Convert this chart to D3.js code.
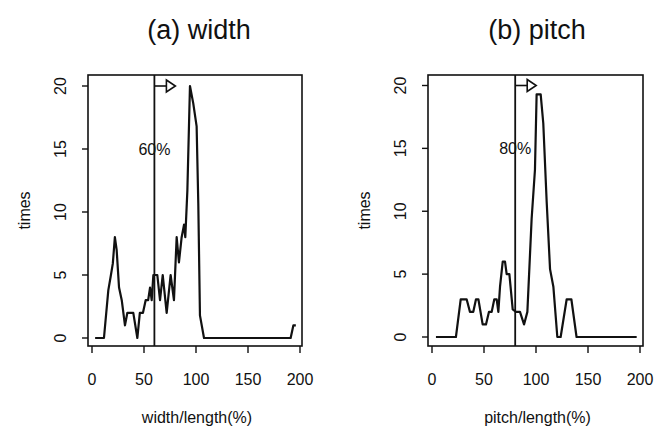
<!DOCTYPE html>
<html>
<head>
<meta charset="utf-8">
<title>width / pitch</title>
<script src="https://d3js.org/d3.v7.min.js"></script>
<style>
    body { margin: 0; background: #fff; }
    text { font-family: "Liberation Sans", Arial, sans-serif; fill: #111; }
</style>
</head>
<body>
<script>
    // (a) width: x = width/length (%), y = times
    const widthX = [3, 11.5, 15.7, 18, 20, 22, 23.7, 26, 28.6, 31.7, 34, 39.7, 43.6, 46, 49, 51.6, 54, 55.8, 57.4, 59,
        62.8, 65.4, 68, 71.8, 75.6, 78.8, 81.4, 83.6, 86.2, 88.5, 89.7, 91.7, 94.2, 97.4, 100.6, 102.2, 103.8, 107.7,
        191, 193.6, 196];
    const widthY = [0, 0, 3.8, 4.9, 5.9, 8, 7, 4, 3, 1, 2, 2, 0, 2, 2, 3, 3, 4, 3, 5,
        5, 3, 5, 2, 5, 3, 8, 6, 8, 9, 8, 11.7, 20, 18.6, 16.8, 10.7, 1.8, 0,
        0, 1, 1];

    // (b) pitch
    const pitchX = [3.8, 23, 27.6, 33.3, 36.5, 39.7, 42.3, 44.6, 48.7, 51.9, 54.8, 57.4, 59.9, 62.2, 63.8, 65.4, 68, 70.2,
        71.8, 74.4, 77.6, 80.8, 84.6, 88.5, 91.7, 95.8, 99, 100.6, 104.5, 107, 110.3, 113.5, 116.7, 120.5, 123.7,
        129.5, 134, 139, 196.8];
    const pitchY = [0, 0, 3, 3, 2, 2, 3, 3, 1, 1, 2, 2, 3, 3, 2, 4, 6, 6,
        5, 5, 2.2, 2, 2, 1, 2, 9.4, 13.3, 19.3, 19.3, 17, 10.7, 5.4, 4, 0, 0,
        3, 3, 0, 0];

    const xTicks = [0, 50, 100, 150, 200];
    const yTicks = [0, 5, 10, 15, 20];

    const panels = [
        { title: "(a) width", xlab: "width/length(%)", xs: widthX, ys: widthY, cut: 60, cutLabel: "60%",
          box: [88, 302], xr: [92, 300], yr: [338, 86], top: 75, bottom: 346, titleX: 199 },
        { title: "(b) pitch", xlab: "pitch/length(%)", xs: pitchX, ys: pitchY, cut: 80, cutLabel: "80%",
          box: [428, 643], xr: [432, 640], yr: [337, 85.5], top: 75, bottom: 346, titleX: 537 }
    ];

    const svg = d3.select("body").append("svg")
        .attr("width", 654)
        .attr("height", 434);

    panels.forEach(function(p) {
        const x = d3.scaleLinear().domain([0, 200]).range(p.xr);
        const y = d3.scaleLinear().domain([0, 20]).range(p.yr);
        const g = svg.append("g");

        // frame
        g.append("rect")
            .attr("x", p.box[0]).attr("y", p.top)
            .attr("width", p.box[1] - p.box[0]).attr("height", p.bottom - p.top)
            .attr("fill", "none").attr("stroke", "#111").attr("stroke-width", 1.6);

        // x axis
        g.selectAll(".xt").data(xTicks).join("line")
            .attr("x1", d => x(d)).attr("x2", d => x(d))
            .attr("y1", p.bottom).attr("y2", p.bottom + 7)
            .attr("stroke", "#111").attr("stroke-width", 1.4);
        g.selectAll(".xl").data(xTicks).join("text")
            .attr("x", d => x(d)).attr("y", 385)
            .attr("text-anchor", "middle").attr("font-size", 16)
            .text(d => d);

        // y axis
        g.selectAll(".yt").data(yTicks).join("line")
            .attr("x1", p.box[0] - 6).attr("x2", p.box[0])
            .attr("y1", d => y(d)).attr("y2", d => y(d))
            .attr("stroke", "#111").attr("stroke-width", 1.4);
        g.selectAll(".yl").data(yTicks).join("text")
            .attr("transform", d => "translate(" + (p.box[0] - 22) + "," + y(d) + ") rotate(-90)")
            .attr("text-anchor", "middle").attr("font-size", 16)
            .text(d => d);

        // labels
        g.append("text")
            .attr("x", p.titleX).attr("y", 39)
            .attr("text-anchor", "middle").attr("font-size", 27)
            .text(p.title);
        g.append("text")
            .attr("x", (p.box[0] + p.box[1]) / 2 + 2).attr("y", 423)
            .attr("text-anchor", "middle").attr("font-size", 16)
            .text(p.xlab);
        g.append("text")
            .attr("transform", "translate(" + (p.box[0] - 58) + "," + ((p.top + p.bottom) / 2) + ") rotate(-90)")
            .attr("text-anchor", "middle").attr("font-size", 16)
            .text("times");

        // threshold line + arrow
        const cx = x(p.cut);
        g.append("line")
            .attr("x1", cx).attr("x2", cx).attr("y1", p.top).attr("y2", p.bottom)
            .attr("stroke", "#111").attr("stroke-width", 1.8);
        const ay = y(20);
        g.append("line")
            .attr("x1", cx).attr("x2", cx + 12).attr("y1", ay).attr("y2", ay)
            .attr("stroke", "#111").attr("stroke-width", 1.6);
        g.append("path")
            .attr("d", "M" + (cx + 12) + "," + (ay - 6) + "L" + (cx + 21) + "," + ay + "L" + (cx + 12) + "," + (ay + 6) + "Z")
            .attr("fill", "#fff").attr("stroke", "#111").attr("stroke-width", 1.6);
        g.append("text")
            .attr("x", cx).attr("y", y(15) + 6)
            .attr("text-anchor", "middle").attr("font-size", 16)
            .text(p.cutLabel);

        // curve
        const pts = p.xs.map((v, i) => [v, p.ys[i]]);
        g.append("path")
            .datum(pts)
            .attr("d", d3.line().x(d => x(d[0])).y(d => y(d[1])))
            .attr("fill", "none").attr("stroke", "#111").attr("stroke-width", 2.2)
            .attr("stroke-linejoin", "round");
    });
</script>
</body>
</html>
